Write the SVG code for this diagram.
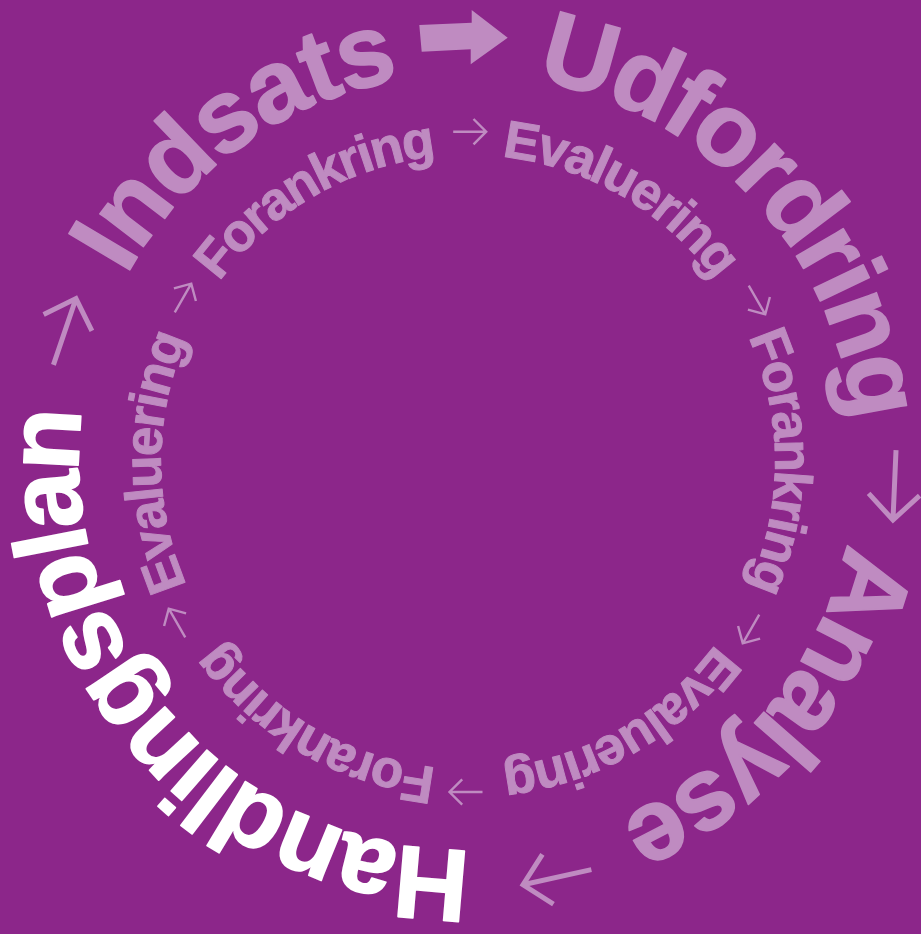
<svg xmlns="http://www.w3.org/2000/svg" xmlns:xlink="http://www.w3.org/1999/xlink" width="921" height="934" viewBox="0 0 921 934">
  <defs>
    <path id="outerRing" d="M855,462 A388,388 0 1,1 79,462 A388,388 0 1,1 855,462 A388,388 0 1,1 79,462 A388,388 0 1,1 855,462"/>
    <path id="innerRing" d="M775,462 A307,307 0 1,1 161,462 A307,307 0 1,1 775,462 A307,307 0 1,1 161,462 A307,307 0 1,1 775,462"/>
    <path id="thinArrowBig" d="M-35,0 H35 M9.5,-25.5 L35,0 L9.5,25.5"/>
    <path id="thinArrowSmall" d="M-16.5,0 H16.5 M3.8,-12.7 L16.5,0 L3.8,12.7"/>
  </defs>
  <style>
    .outer { font-family: "Liberation Sans", Arial, sans-serif; font-weight: 700; font-size: 103px; fill: #BF8BC1; stroke: #BF8BC1; stroke-width: 1.6; stroke-linejoin: round; }
    .outer.hl { fill: #FFFFFF; stroke: #FFFFFF; }
    .inner { font-family: "Liberation Sans", Arial, sans-serif; font-weight: 700; font-size: 53px; fill: #BF8BC1; stroke: #BF8BC1; stroke-width: 1; stroke-linejoin: round; }
    .big { fill: none; stroke: #BF8BC1; stroke-width: 5; }
    .small { fill: none; stroke: #BF8BC1; stroke-width: 2.4; }
  </style>
  <rect width="921" height="934" fill="#8C268A"/>

  <g id="indsats"><text class="outer" text-anchor="middle"><textPath xlink:href="#outerRing" href="#outerRing" startOffset="1586.6" textLength="348" lengthAdjust="spacing">Indsats</textPath></text></g>
  <g id="udfordring"><text class="outer" text-anchor="middle"><textPath xlink:href="#outerRing" href="#outerRing" startOffset="2146.7" textLength="501" lengthAdjust="spacing">Udfordring</textPath></text></g>
  <g id="analyse"><text class="outer" text-anchor="middle"><textPath xlink:href="#outerRing" href="#outerRing" startOffset="267.5" textLength="372" lengthAdjust="spacing">Analyse</textPath></text></g>
  <g id="handlingsplan"><text class="outer hl" text-anchor="middle"><textPath xlink:href="#outerRing" href="#outerRing" startOffset="937.9" textLength="666" lengthAdjust="spacing">Handlingsplan</textPath></text></g>

  <g id="forankring-1"><text class="inner" text-anchor="middle"><textPath xlink:href="#innerRing" href="#innerRing" startOffset="1285.9" textLength="258" lengthAdjust="spacing">Forankring</textPath></text></g>
  <g id="evaluering-1"><text class="inner" text-anchor="middle"><textPath xlink:href="#innerRing" href="#innerRing" startOffset="1607.4" textLength="254" lengthAdjust="spacing">Evaluering</textPath></text></g>
  <g id="forankring-2"><text class="inner" text-anchor="middle"><textPath xlink:href="#innerRing" href="#innerRing" startOffset="1928.9" textLength="258" lengthAdjust="spacing">Forankring</textPath></text></g>
  <g id="evaluering-2"><text class="inner" text-anchor="middle"><textPath xlink:href="#innerRing" href="#innerRing" startOffset="321.5" textLength="254" lengthAdjust="spacing">Evaluering</textPath></text></g>
  <g id="forankring-3"><text class="inner" text-anchor="middle"><textPath xlink:href="#innerRing" href="#innerRing" startOffset="643.0" textLength="258" lengthAdjust="spacing">Forankring</textPath></text></g>
  <g id="evaluering-3"><text class="inner" text-anchor="middle"><textPath xlink:href="#innerRing" href="#innerRing" startOffset="964.5" textLength="254" lengthAdjust="spacing">Evaluering</textPath></text></g>

  <g id="connectors">
    <polygon points="419.3,25 471.7,22.7 471.7,10 507.7,37.7 470.7,64.3 470.7,49.3 421.7,51.7" fill="#BF8BC1"/>
    <use href="#thinArrowBig" xlink:href="#thinArrowBig" class="big" transform="translate(894.5,485) rotate(92.5)"/>
    <use href="#thinArrowBig" xlink:href="#thinArrowBig" class="big" transform="translate(557.2,877.2) rotate(167.5)"/>
    <use href="#thinArrowBig" xlink:href="#thinArrowBig" class="big" transform="translate(64.7,331.7) rotate(288.8)"/>
    <use href="#thinArrowSmall" xlink:href="#thinArrowSmall" class="small" transform="translate(469.7,131.7) rotate(0)"/>
    <use href="#thinArrowSmall" xlink:href="#thinArrowSmall" class="small" transform="translate(757,300) rotate(60)"/>
    <use href="#thinArrowSmall" xlink:href="#thinArrowSmall" class="small" transform="translate(751,629) rotate(120)"/>
    <use href="#thinArrowSmall" xlink:href="#thinArrowSmall" class="small" transform="translate(466,792) rotate(180)"/>
    <use href="#thinArrowSmall" xlink:href="#thinArrowSmall" class="small" transform="translate(177,623) rotate(240)"/>
    <use href="#thinArrowSmall" xlink:href="#thinArrowSmall" class="small" transform="translate(183,298) rotate(300)"/>
  </g>
</svg>
